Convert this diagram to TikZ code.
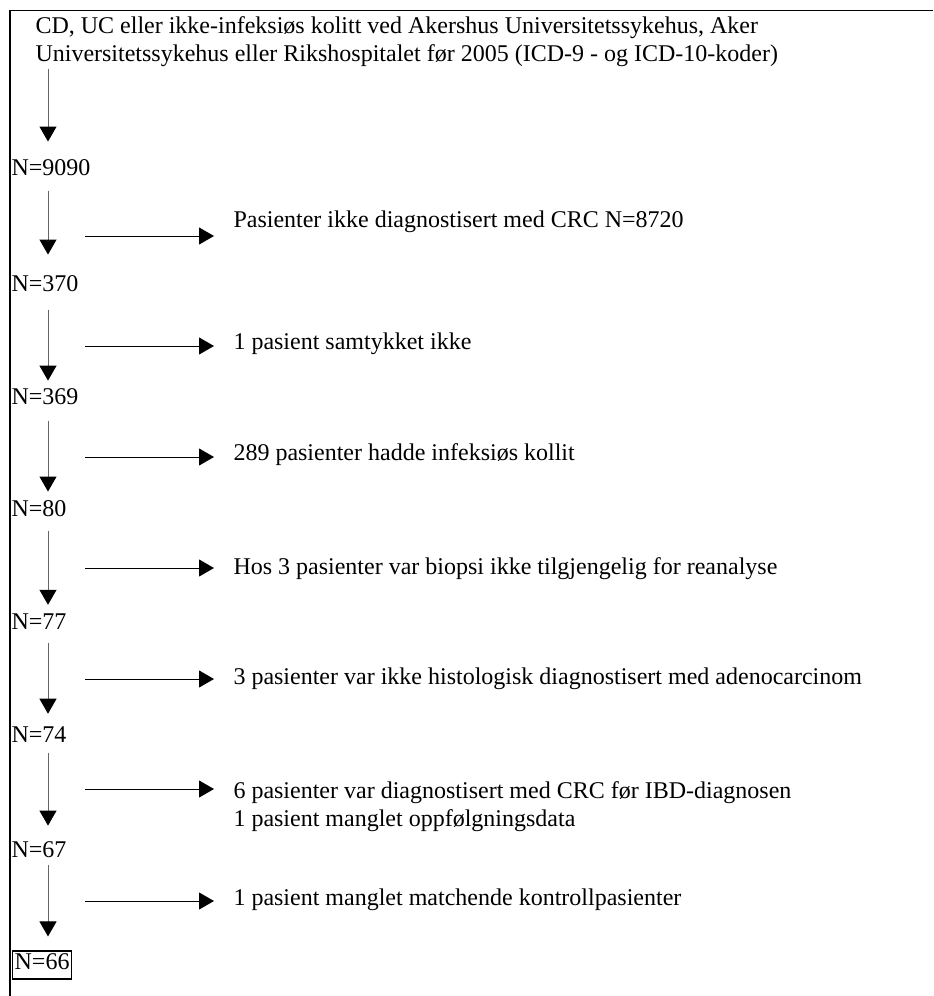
\documentclass[tikz,border=0pt]{standalone}
\usepackage{fontspec}
\setmainfont{Liberation Serif}
\usetikzlibrary{arrows.meta}
\begin{document}
\begin{tikzpicture}[
                                x = 0.5pt,
                                y = -0.5pt,
                                font = \fontsize{12}{14}\selectfont,
                                line width = 0.5pt
                                ]

                                \tikzstyle{count}=[
                                        anchor = base west,
                                        inner sep = 0pt
                                ]
                                \tikzstyle{reason}=[
                                        anchor = base west,
                                        inner sep = 0pt,
                                        align = left
                                ]
                                \tikzstyle{flow}=[
                                        -{Triangle[width=8.5pt,length=7.5pt,color=black]}
                                ]
                                \tikzstyle{down}=[
                                        flow,
                                        draw = black!60
                                ]

                                \useasboundingbox (0,0) rectangle (933,996);
                                \draw[line width = 0.6pt] (933,10.5) -- (10,10.5) -- (10,996);
                                \coordinate (spine) at (48,0);

                                % base of a two-line node is its last line
                                \node[reason] (0) at (35,61) {CD, UC eller ikke-infeksiøs kolitt ved Akershus Universitetssykehus, Aker\\Universitetssykehus eller Rikshospitalet før 2005 (ICD-9 - og ICD-10-koder)};

                                \node[count] (1) at (11,175) {N=9090};
                                \node[count] (2) at (11,291) {N=370};
                                \node[count] (3) at (11,404) {N=369};
                                \node[count] (4) at (11,516) {N=80};
                                \node[count] (5) at (11,629) {N=77};
                                \node[count] (6) at (11,742) {N=74};
                                \node[count] (7) at (11,857) {N=67};
                                \node[count, draw, line width = 0.65pt, inner sep = 1pt, text depth = 4pt] (8) at (12,969) {N=66};

                                \node[reason] (e1) at (233,227) {Pasienter ikke diagnostisert med CRC N=8720};
                                \node[reason] (e2) at (233,349) {1 pasient samtykket ikke};
                                \node[reason] (e3) at (233,460) {289 pasienter hadde infeksiøs kollit};
                                \node[reason] (e4) at (233,574) {Hos 3 pasienter var biopsi ikke tilgjengelig for reanalyse};
                                \node[reason] (e5) at (233,684) {3 pasienter var ikke histologisk diagnostisert med adenocarcinom};
                                \node[reason] (e6) at (233,826) {6 pasienter var diagnostisert med CRC før IBD-diagnosen\\1 pasient manglet oppfølgningsdata};
                                \node[reason] (e7) at (233,905) {1 pasient manglet matchende kontrollpasienter};

                                \draw[down, shorten < = 1pt, shorten > = 8.5pt] (0.south -| spine) -- (1.north -| spine);
                                \draw[down, shorten < = 7.5pt, shorten > = 10pt] (1.south -| spine) -- (2.north -| spine);
                                \draw[down, shorten < = 9pt, shorten > = 3.5pt] (2.south -| spine) -- (3.north -| spine);
                                \draw[down, shorten < = 8pt, shorten > = 4pt] (3.south -| spine) -- (4.north -| spine);
                                \draw[down, shorten < = 7pt, shorten > = 4pt] (4.south -| spine) -- (5.north -| spine);
                                \draw[down, shorten < = 6.5pt, shorten > = 6pt] (5.south -| spine) -- (6.north -| spine);
                                \draw[down, shorten < = 5pt, shorten > = 7.5pt] (6.south -| spine) -- (7.north -| spine);
                                \draw[down, shorten < = 3.5pt, shorten > = 7pt] (7.south -| spine) -- (8.north -| spine);

                                \coordinate (h1) at (85,236);
                                \coordinate (h2) at (85,346);
                                \coordinate (h3) at (85,457);
                                \coordinate (h4) at (85,568);
                                \coordinate (h5) at (85,679);
                                \coordinate (h6) at (85,789);
                                \coordinate (h7) at (85,901);

                                \draw[flow, shorten > = 9.5pt] (h1) -- (h1 -| e1.west);
                                \draw[flow, shorten > = 9.5pt] (h2) -- (h2 -| e2.west);
                                \draw[flow, shorten > = 9.5pt] (h3) -- (h3 -| e3.west);
                                \draw[flow, shorten > = 9.5pt] (h4) -- (h4 -| e4.west);
                                \draw[flow, shorten > = 9.5pt] (h5) -- (h5 -| e5.west);
                                \draw[flow, shorten > = 9.5pt] (h6) -- (h6 -| e6.west);
                                \draw[flow, shorten > = 9.5pt] (h7) -- (h7 -| e7.west);
                       \end{tikzpicture}
\end{document}
